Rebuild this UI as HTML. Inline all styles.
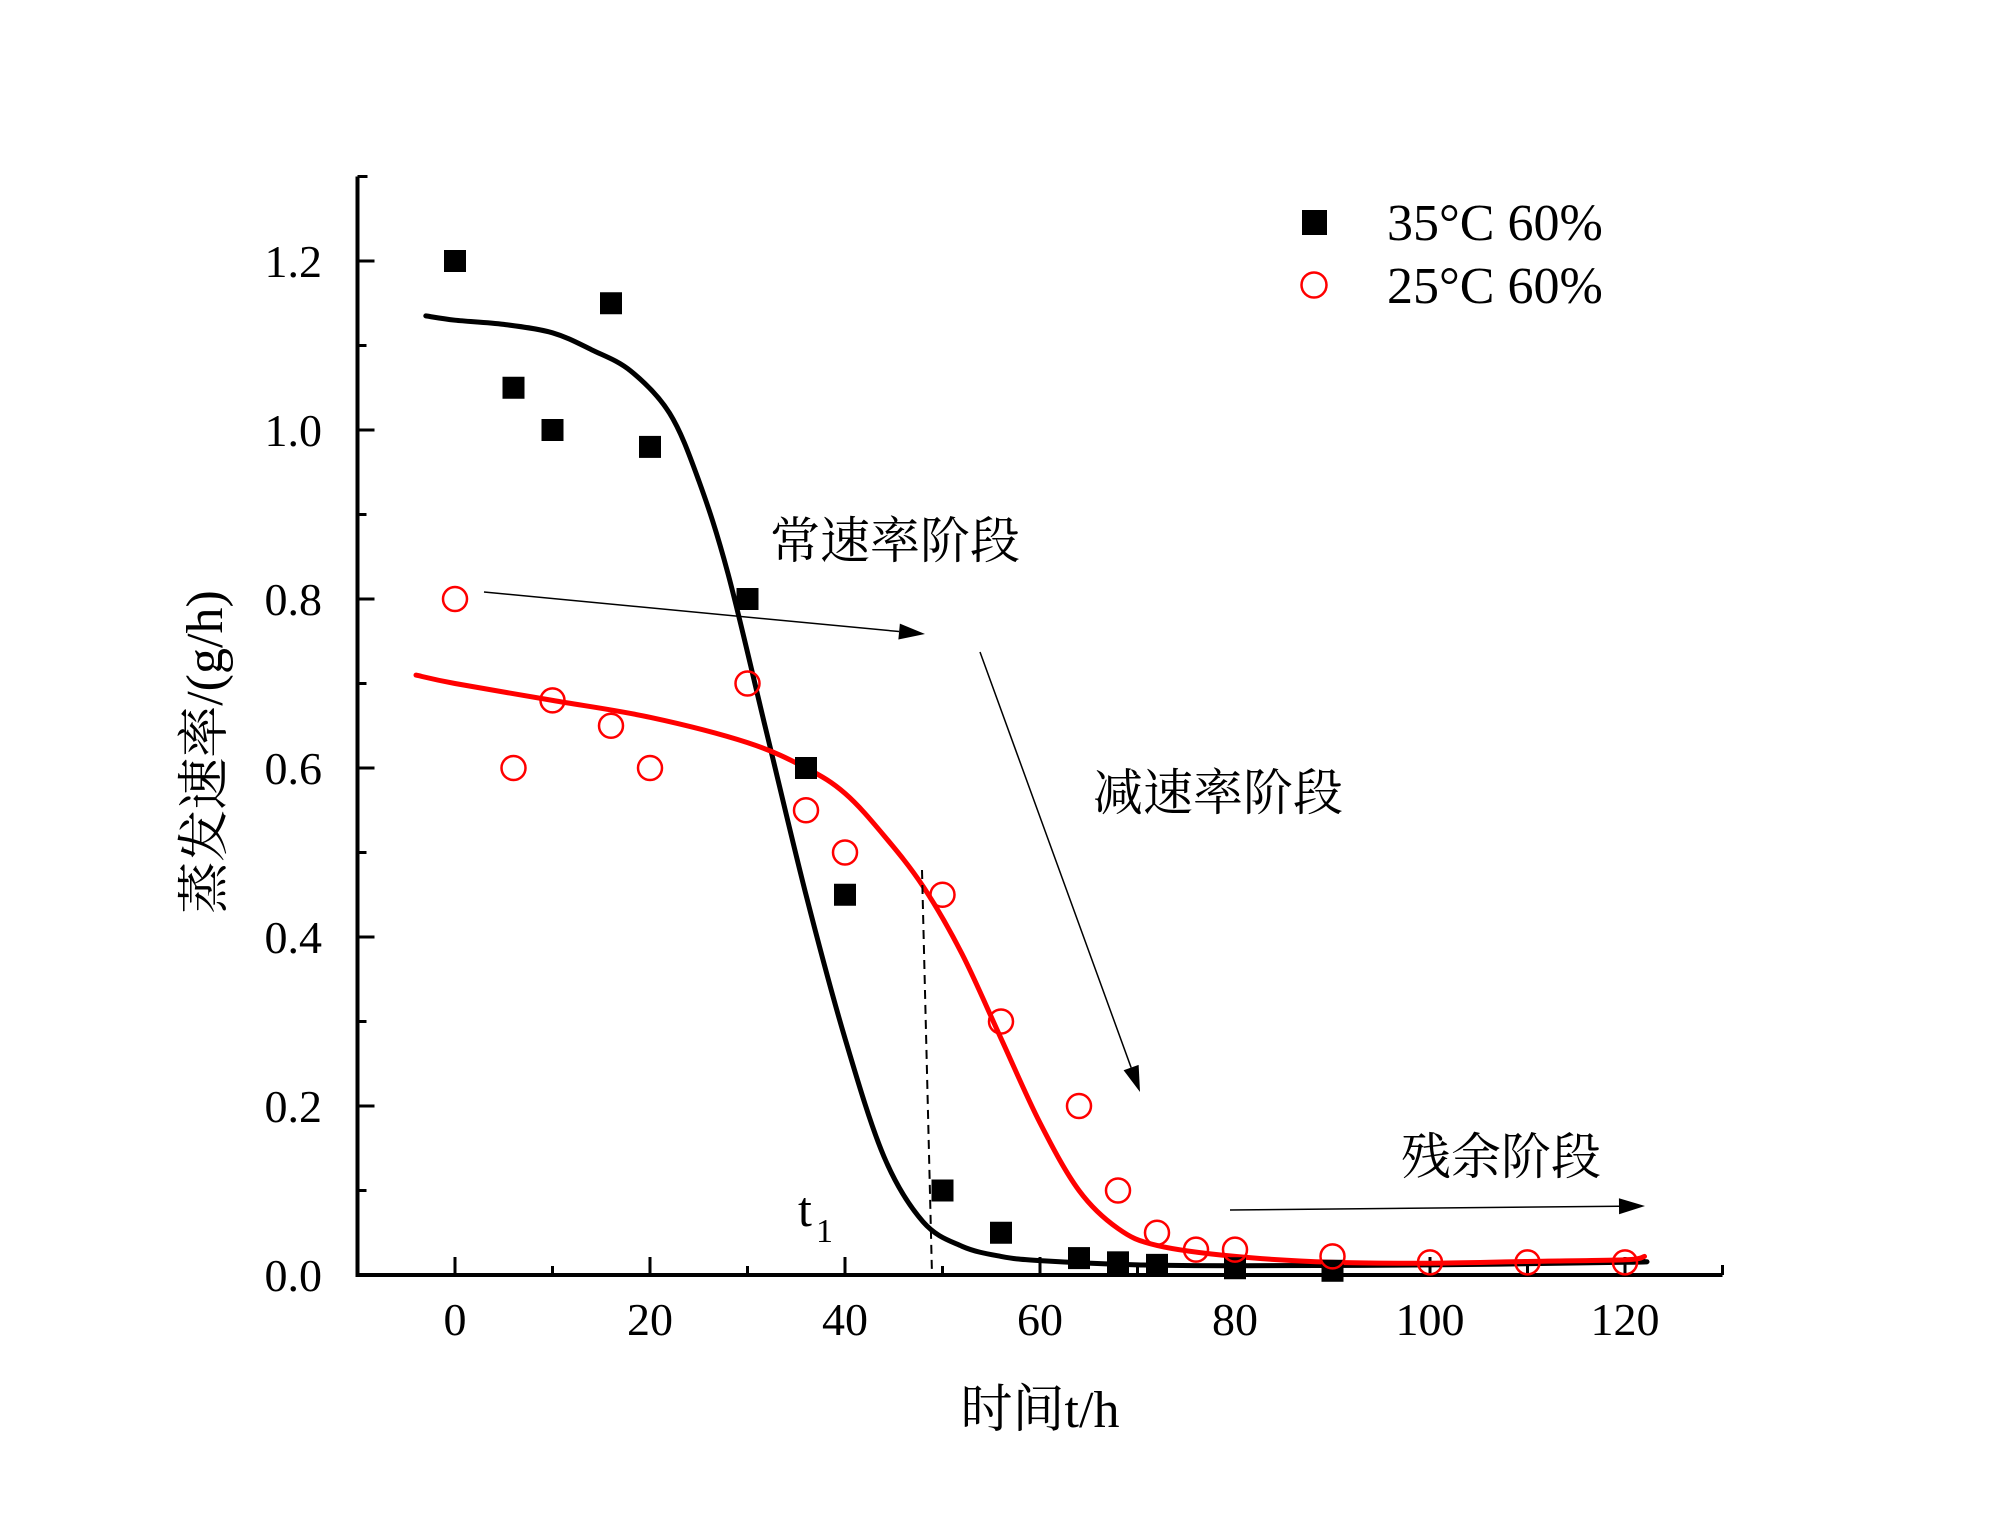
<!DOCTYPE html>
<html><head><meta charset="utf-8"><style>
body{margin:0;background:#fff}
svg{display:block}
text{font-family:"Liberation Serif","Noto Serif CJK SC",serif}
</style></head><body>
<svg id="chart" width="2000" height="1531" viewBox="0 0 2000 1531" xmlns="http://www.w3.org/2000/svg">
<g id="axes"></g><g id="series"></g><g id="annot"></g>
</svg>
<script>
const xTicks=[0,20,40,60,80,100,120];
const yTicks=[0.0,0.2,0.4,0.6,0.8,1.0,1.2];
const yTickLabels=["0.0","0.2","0.4","0.6","0.8","1.0","1.2"];
const blackX=[0,6,10,16,20,30,36,40,50,56,64,68,72,80,90];
const blackY=[1.2,1.05,1.0,1.15,0.98,0.8,0.6,0.45,0.1,0.05,0.02,0.015,0.012,0.008,0.005];
const redX=[0,6,10,16,20,30,36,40,50,56,64,68,72,76,80,90,100,110,120];
const redY=[0.8,0.6,0.68,0.65,0.6,0.7,0.55,0.5,0.45,0.3,0.2,0.1,0.05,0.03,0.03,0.022,0.015,0.015,0.015];
const blackFitX=[-3,0,5,10,14,18,22,25,28,32,36,40,44,48,52,56,60,70,80,100,120,122];
const blackFitY=[1.135,1.13,1.125,1.115,1.095,1.07,1.02,0.94,0.83,0.64,0.45,0.28,0.14,0.063,0.034,0.022,0.017,0.012,0.011,0.012,0.015,0.016];
const redFitX=[-4,0,10,20,30,36,40,44,48,52,56,60,64,68,72,80,90,100,110,120,122];
const redFitY=[0.71,0.70,0.68,0.66,0.63,0.60,0.57,0.52,0.46,0.38,0.28,0.18,0.10,0.055,0.035,0.022,0.015,0.014,0.016,0.018,0.022];

const NS="http://www.w3.org/2000/svg";
const X=v=>455+(v)*9.75;
const Y=v=>1275-v*845;
function mk(tag,attrs,parent,txt){const e=document.createElementNS(NS,tag);for(const k in attrs)e.setAttribute(k,attrs[k]);if(txt!==undefined)e.textContent=txt;parent.appendChild(e);return e;}
const axes=document.getElementById('axes'),ser=document.getElementById('series'),ann=document.getElementById('annot');

let e=mk('line',{x1:X(-10),y1:Y(0),x2:X(130),y2:Y(0),stroke:'#000','stroke-width':4},axes);


e=mk('line',{x1:X(-10),y1:Y(0)+2,x2:X(-10),y2:Y(1.3),stroke:'#000','stroke-width':4},axes);


mk('line',{x1:X(-10),y1:Y(1.3),x2:X(-10)+10,y2:Y(1.3),stroke:'#000','stroke-width':3},axes);
mk('line',{x1:X(130),y1:Y(0),x2:X(130),y2:Y(0)-10,stroke:'#000','stroke-width':3},axes);
for(let v=0;v<=130;v+=10){const major=v%20===0;mk('line',{x1:X(v),y1:Y(0),x2:X(v),y2:Y(0)-(major?18:9),stroke:'#000','stroke-width':3},axes);}
for(let i=0;i<=12;i++){const v=i/10;const major=i%2===0;mk('line',{x1:X(-10),y1:Y(v),x2:X(-10)+(major?17:9),y2:Y(v),stroke:'#000','stroke-width':3},axes);}
xTicks.forEach(v=>{const t=mk('text',{x:X(v),y:1335,'font-size':46,'text-anchor':'middle'},axes,String(v));

});
yTicks.forEach((v,i)=>{const t=mk('text',{x:322,y:Y(v)+16,'font-size':46,'text-anchor':'end'},axes,yTickLabels[i]);

});
e=mk('text',{x:1040,y:1427,'font-size':52,'text-anchor':'middle'},axes,'时间t/h');


e=mk('text',{x:0,y:0,'font-size':52,'text-anchor':'middle',transform:'translate(222,752) rotate(-90)'},axes,'蒸发速率/(g/h)');



function path(xs,ys,color,name){
const P=xs.map((x,i)=>[X(x),Y(ys[i])]);
let d='M'+P[0][0].toFixed(1)+' '+P[0][1].toFixed(1);
for(let i=0;i<P.length-1;i++){const p0=P[Math.max(0,i-1)],p1=P[i],p2=P[i+1],p3=P[Math.min(P.length-1,i+2)];
const c1=[p1[0]+(p2[0]-p0[0])/6,p1[1]+(p2[1]-p0[1])/6],c2=[p2[0]-(p3[0]-p1[0])/6,p2[1]-(p3[1]-p1[1])/6];
d+=` C${c1[0].toFixed(1)} ${c1[1].toFixed(1)} ${c2[0].toFixed(1)} ${c2[1].toFixed(1)} ${p2[0].toFixed(1)} ${p2[1].toFixed(1)}`;}
const p=mk('path',{d:d,fill:'none',stroke:color,'stroke-width':5,'stroke-linejoin':'round','stroke-linecap':'round'},ser);

}
path(blackFitX,blackFitY,'#000','fit-line-35c');
path(redFitX,redFitY,'#f00','fit-line-25c');
blackX.forEach((x,i)=>{const r=mk('rect',{x:X(x)-11,y:Y(blackY[i])-11,width:22,height:22,fill:'#000'},ser);

});
redX.forEach((x,i)=>{const c=mk('circle',{cx:X(x),cy:Y(redY[i]),r:12,fill:'none',stroke:'#f00','stroke-width':2.5},ser);

});

// legend
e=mk('rect',{x:1302,y:210,width:25,height:25,fill:'#000'},ann);


e=mk('circle',{cx:1314,cy:285,r:12.5,fill:'none',stroke:'#f00','stroke-width':2.5},ann);


e=mk('text',{x:1387,y:240,'font-size':52},ann,'35°C 60%');


e=mk('text',{x:1387,y:303,'font-size':52},ann,'25°C 60%');



// annotations
function arrow(x1,y1,x2,y2,name){const a=Math.atan2(y2-y1,x2-x1),L=26,W=8;
mk('line',{x1:x1,y1:y1,x2:x2-Math.cos(a)*L,y2:y2-Math.sin(a)*L,stroke:'#000','stroke-width':1.5},ann);
const bx=x2-Math.cos(a)*L,by=y2-Math.sin(a)*L;
const p=mk('polygon',{points:`${x2},${y2} ${bx-Math.sin(a)*W},${by+Math.cos(a)*W} ${bx+Math.sin(a)*W},${by-Math.cos(a)*W}`,fill:'#000'},ann);

}
arrow(484,592,925,634,'constant-rate-arrow');
arrow(980,652,1140,1092,'falling-rate-arrow');
arrow(1230,1210,1645,1206,'residual-arrow');
e=mk('text',{x:770,y:558,'font-size':50},ann,'常速率阶段');


e=mk('text',{x:1093,y:810,'font-size':50},ann,'减速率阶段');


e=mk('text',{x:1401,y:1174,'font-size':50},ann,'残余阶段');


e=mk('line',{x1:922,y1:870,x2:932,y2:1275,stroke:'#000','stroke-width':2,'stroke-dasharray':'9,6'},ann);


e=mk('text',{x:798,y:1226,'font-size':50},ann,'t');


mk('text',{x:816,y:1242,'font-size':34},ann,'1');
</script>
</body></html>
